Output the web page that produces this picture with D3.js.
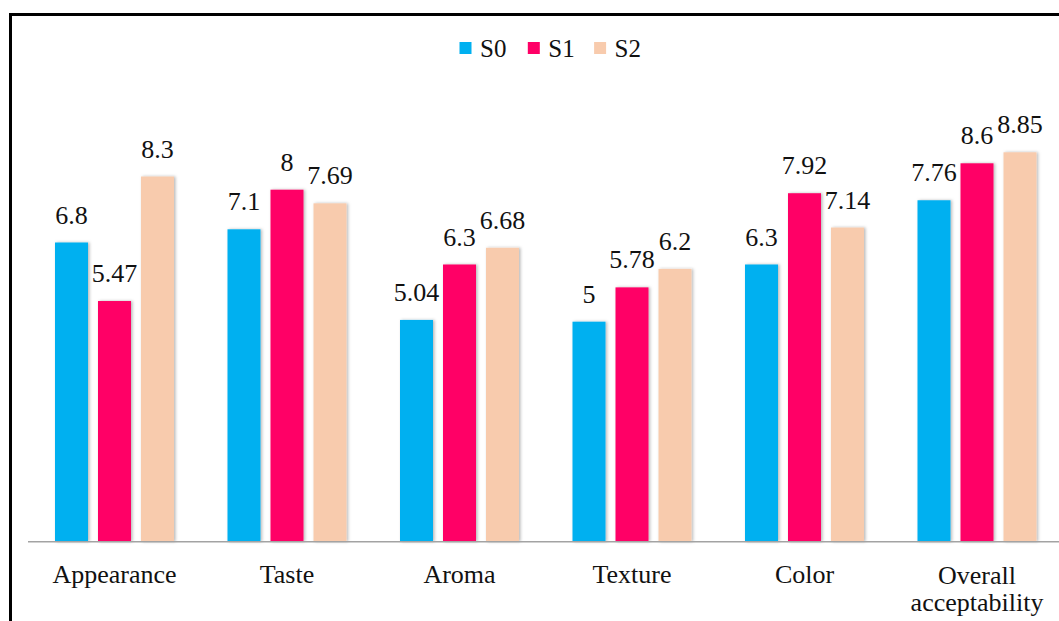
<!DOCTYPE html>
<html>
<head>
<meta charset="utf-8">
<script src="https://cdn.jsdelivr.net/npm/d3@7"></script>
<style>
  html, body { margin: 0; padding: 0; background: #fff; }
  svg { display: block; }
</style>
</head>
<body>
<svg id="chart" width="1059" height="621"></svg>
<script>
// Sensory scores per attribute for the three samples
const categories = ["Appearance", "Taste", "Aroma", "Texture", "Color", "Overall acceptability"];
const seriesNames = ["S0", "S1", "S2"];
const s0Values = [6.8, 7.1, 5.04, 5, 6.3, 7.76];
const s1Values = [5.47, 8, 6.3, 5.78, 7.92, 8.6];
const s2Values = [8.3, 7.69, 6.68, 6.2, 7.14, 8.85];
const seriesColors = ["#00B0F0", "#FF0066", "#F8CBAD"];

const seriesValues = [s0Values, s1Values, s2Values];
const rows = categories.map((c, i) => ({
  category: c,
  values: seriesNames.map((s, j) => ({ series: s, value: seriesValues[j][i] }))
}));

const W = 1059, H = 621;
const FONT = "Liberation Serif, DejaVu Serif, serif";
const svg = d3.select("#chart");

// soft shadow behind the bars
const defs = svg.append("defs");
const f = defs.append("filter").attr("id", "barShadow")
  .attr("x", "-30%").attr("y", "-5%").attr("width", "160%").attr("height", "110%");
f.append("feDropShadow").attr("dx", 1.5).attr("dy", 0).attr("stdDeviation", 1.6)
  .attr("flood-color", "#000").attr("flood-opacity", 0.28);

const baseY = 541.7;
const x0 = d3.scaleBand().domain(categories).range([28.25, 1063.25]).paddingInner(0).paddingOuter(0);
const x1 = d3.scaleBand().domain(seriesNames).range([26.75, 145.75]).paddingInner(10 / 43).paddingOuter(0);
const y = d3.scaleLinear().domain([0, 10]).range([baseY, baseY - 440]);
const color = d3.scaleOrdinal().domain(seriesNames).range(seriesColors);

// bars
const groups = svg.append("g").selectAll("g").data(rows).join("g")
  .attr("transform", d => `translate(${x0(d.category)},0)`);

groups.selectAll("rect").data(d => d.values).join("rect")
  .attr("x", d => x1(d.series))
  .attr("y", d => y(d.value))
  .attr("width", x1.bandwidth())
  .attr("height", d => baseY - y(d.value))
  .attr("fill", d => color(d.series))
  .attr("filter", "url(#barShadow)");

// value labels
groups.selectAll("text").data(d => d.values).join("text")
  .attr("x", d => x1(d.series) + x1.bandwidth() / 2)
  .attr("y", d => y(d.value) - 19)
  .attr("text-anchor", "middle")
  .attr("font-family", FONT)
  .attr("font-size", 26)
  .attr("fill", "#111")
  .text(d => d.value);

// category axis
const axis = svg.append("g")
  .attr("transform", `translate(0,${baseY})`)
  .call(d3.axisBottom(x0).tickSize(0).tickPadding(0))
  .attr("font-family", FONT)
  .attr("font-size", 26);
axis.select(".domain").remove();
axis.append("line")
  .attr("x1", 28).attr("x2", W).attr("y1", 0).attr("y2", 0)
  .attr("stroke", "#a3a3a3").attr("stroke-width", 1.6);

axis.selectAll(".tick text")
  .attr("fill", "#111")
  .attr("dy", null)
  .attr("y", 41.5)
  .each(function (d) {
    const t = d3.select(this);
    if (d === "Overall acceptability") {
      t.text(null);
      t.attr("y", 42.5);
      t.append("tspan").attr("x", 0).text("Overall");
      t.append("tspan").attr("x", 0).attr("dy", 26.5).text("acceptability");
    }
  });
// ticks sit under the middle bar of each group
axis.selectAll(".tick").attr("transform", d => `translate(${x0(d) + x1("S1") + x1.bandwidth() / 2},0)`);

// legend
const legend = svg.append("g").attr("transform", "translate(459.5,0)");
const legendOffsets = [0, 68.3, 134.6];
const lg = legend.selectAll("g").data(seriesNames).join("g")
  .attr("transform", (d, i) => `translate(${legendOffsets[i]},0)`);
lg.append("rect").attr("x", 0).attr("y", 42).attr("width", 12).attr("height", 12)
  .attr("fill", d => color(d));
lg.append("text").attr("x", 20.5).attr("y", 56.7)
  .attr("font-family", FONT).attr("font-size", 25)
  .attr("fill", "#111").text(d => d);

// frame
svg.append("line").attr("x1", 9).attr("x2", W).attr("y1", 14.5).attr("y2", 14.5)
  .attr("stroke", "#000").attr("stroke-width", 3);
svg.append("line").attr("x1", 10.5).attr("x2", 10.5).attr("y1", 13).attr("y2", H)
  .attr("stroke", "#000").attr("stroke-width", 3);
</script>
</body>
</html>
